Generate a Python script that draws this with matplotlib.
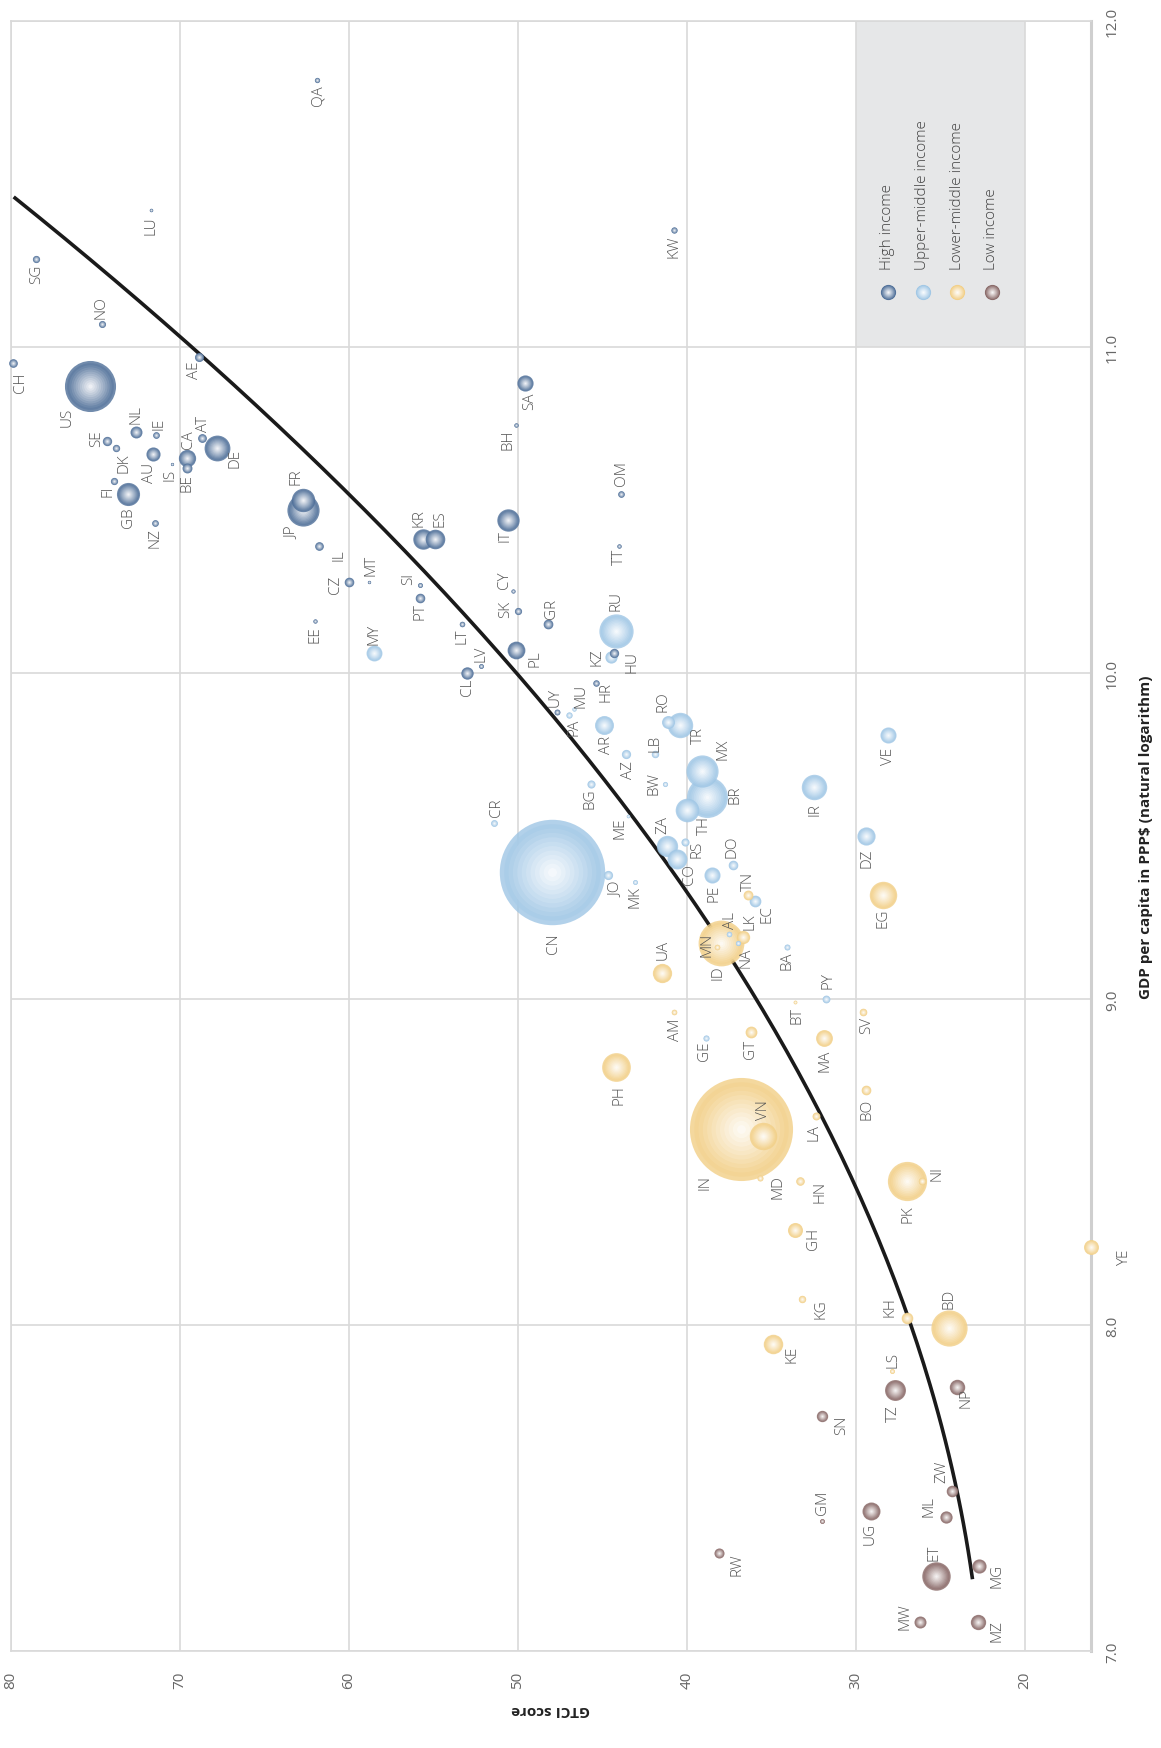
import numpy as np
import matplotlib
matplotlib.use("Agg")
import matplotlib.pyplot as plt
from matplotlib.patches import Rectangle
from matplotlib.colors import to_rgb

# ---- data: country code, GTCI score, ln GDP per capita (PPP$), income group, population (millions)
codes = ["CH", "SG", "NO", "LU", "QA", "KW", "US", "AE", "SA", "BH", "SE", "DK", "NL", "IE", "AU",
         "IS", "CA", "BE", "AT", "DE", "FI", "GB", "NZ", "FR", "JP", "IL", "CZ", "MT", "SI", "KR",
         "ES", "IT", "CY", "OM", "TT", "EE", "LT", "LV", "CL", "PT", "SK", "PL", "GR", "HU", "HR", "UY",
         "MY", "RU", "KZ", "PA", "MU", "AR", "RO", "TR", "AZ", "LB", "BW", "BG", "MX", "BR", "TH",
         "CR", "ME", "ZA", "CO", "RS", "DO", "PE", "CN", "JO", "MK", "EC", "AL", "NA", "BA", "IR",
         "VE", "DZ", "PY", "GE",
         "TN", "LK", "MN", "ID", "UA", "AM", "BT", "PH", "GT", "MA", "SV", "BO", "VN", "IN", "LA",
         "MD", "HN", "PK", "NI", "GH", "YE", "KG", "KH", "BD", "KE", "LS", "EG",
         "TZ", "NP", "SN", "GM", "UG", "ZW", "ML", "RW", "ET", "MG", "MW", "MZ"]

gtci = [79.9, 78.5, 74.6, 71.7, 61.9, 40.8, 75.3, 68.9, 49.6, 50.1, 74.3, 73.8, 72.6, 71.4, 71.6,
        70.5, 69.6, 69.6, 68.7, 67.8, 73.9, 73.1, 71.5, 62.7, 62.7, 61.8, 60.0, 58.8, 55.8, 55.6,
        54.9, 50.6, 50.3, 43.9, 44.0, 62.0, 53.3, 52.2, 53.0, 55.8, 50.0, 50.1, 48.2, 44.3, 45.4, 47.7,
        58.5, 44.2, 44.5, 47.0, 46.7, 44.9, 41.1, 40.4, 43.6, 41.9, 41.3, 45.7, 39.1, 38.8, 40.0,
        51.4, 43.5, 41.2, 40.6, 40.1, 37.3, 38.5, 48.0, 44.7, 43.1, 36.0, 37.5, 37.0, 34.1, 32.5,
        28.1, 29.4, 31.8, 38.9,
        36.4, 36.7, 38.2, 38.0, 41.5, 40.8, 33.6, 44.2, 36.2, 31.9, 29.6, 29.4, 35.5, 36.8, 32.4,
        35.7, 33.3, 27.0, 26.1, 33.6, 16.1, 33.2, 27.0, 24.5, 34.9, 27.9, 28.4,
        27.7, 24.0, 32.0, 32.0, 29.1, 24.3, 24.7, 38.1, 25.3, 22.7, 26.2, 22.8]

gdp = [10.95, 11.27, 11.07, 11.42, 11.82, 11.36, 10.88, 10.97, 10.89, 10.76, 10.71, 10.69, 10.74, 10.73, 10.67,
       10.64, 10.66, 10.63, 10.72, 10.69, 10.59, 10.55, 10.46, 10.53, 10.50, 10.39, 10.28, 10.28, 10.27, 10.41,
       10.41, 10.47, 10.25, 10.55, 10.39, 10.16, 10.15, 10.02, 10.00, 10.23, 10.19, 10.07, 10.15, 10.06, 9.97, 9.88,
       10.06, 10.13, 10.05, 9.87, 9.89, 9.84, 9.85, 9.84, 9.75, 9.75, 9.66, 9.66, 9.70, 9.62, 9.58,
       9.54, 9.56, 9.47, 9.43, 9.48, 9.41, 9.38, 9.39, 9.38, 9.36, 9.30, 9.20, 9.17, 9.16, 9.65,
       9.81, 9.50, 9.00, 8.88,
       9.32, 9.19, 9.16, 9.17, 9.08, 8.96, 8.99, 8.79, 8.90, 8.88, 8.96, 8.72, 8.58, 8.60, 8.64,
       8.45, 8.44, 8.44, 8.44, 8.29, 8.24, 8.08, 8.02, 7.99, 7.94, 7.86, 9.32,
       7.80, 7.81, 7.72, 7.40, 7.43, 7.49, 7.41, 7.30, 7.23, 7.26, 7.09, 7.09]

income = ["H"] * 46 + ["UM"] * 34 + ["LM"] * 27 + ["L"] * 12

population = [8.3, 5.5, 5.2, 0.57, 2.5, 4.0, 321, 9.2, 31.5, 1.4, 9.8, 5.7, 16.9, 4.6, 23.8,
              0.33, 35.9, 11.3, 8.6, 81.4, 5.5, 65.1, 4.6, 66.8, 127, 8.4, 10.5, 0.43, 2.1, 50.6,
              46.4, 60.8, 1.2, 4.5, 1.4, 1.3, 2.9, 2.0, 18.0, 10.4, 5.4, 38.0, 10.8, 9.8, 4.2, 3.4,
              30.3, 144, 17.5, 3.9, 1.3, 43.4, 19.8, 78.7, 9.6, 5.9, 2.3, 7.2, 127, 206, 68,
              4.8, 0.62, 55, 48, 7.1, 10.5, 31, 1371, 9.5, 2.1, 16.1, 2.9, 2.4, 3.5, 79,
              31, 40, 6.6, 3.7,
              11.1, 21, 3.0, 258, 45, 3.0, 0.77, 101, 16.3, 34, 6.3, 10.7, 92, 1311, 6.8,
              3.5, 8.1, 189, 6.1, 27, 26.8, 5.9, 15.6, 161, 46, 2.1, 92,
              53, 28.5, 15, 2.0, 39, 15.6, 17.6, 11.6, 99, 24, 17, 28]

group_names = {"H": "High income", "UM": "Upper-middle income",
               "LM": "Lower-middle income", "L": "Low income"}
group_order = ["H", "UM", "LM", "L"]

# quadratic trend (GTCI = a*g^2 + b*g + c), coefficients
trend_coef = [2.515, -33.6, 134.6]
trend_gdp_range = (7.22, 11.46)

# label placement (pixel offsets from the bubble centre, + = right / down on the page)
label_off = {
    "CH": (8, 19), "SG": (0, 14), "NO": (-1, -17), "LU": (0, 15), "QA": (1, 15), "KW": (0, 16),
    "US": (-23, 30), "AE": (-4, 13), "SA": (5, 18), "BH": (-8, 14), "SE": (-11, -4), "DK": (8, 14),
    "NL": (0, -18), "IE": (3, -12), "AU": (-3, 17), "IS": (-2, 10), "CA": (2, -19), "BE": (0, 15),
    "AT": (1, -15), "DE": (18, 9), "FI": (-6, 10), "GB": (1, 23), "NZ": (0, 14), "FR": (-7, -24),
    "JP": (-11, 22), "IL": (20, 8), "CZ": (-14, 2), "MT": (2, -17), "SI": (-11, -7), "KR": (-4, -22),
    "ES": (5, -22), "IT": (-3, 15), "CY": (-8, -12), "OM": (0, -21), "TT": (0, 10), "EE": (0, 13),
    "LT": (0, 11), "LV": (0, -13), "CL": (0, 13), "PT": (0, 13), "SK": (-12, -3), "PL": (19, 8),
    "GR": (3, -16), "HU": (18, 8), "HR": (10, 8), "UY": (-2, -16),
    "MY": (0, -20), "RU": (0, -31), "KZ": (-14, 0), "PA": (5, 11), "MU": (7, -14), "AR": (2, 19),
    "RO": (-5, -21), "TR": (18, 9), "AZ": (2, 15), "LB": (0, -12), "BW": (-11, -1), "BG": (-1, 14),
    "MX": (21, -22), "BR": (28, -3), "TH": (17, 15), "CR": (2, -16), "ME": (-8, 11), "ZA": (-4, -22),
    "CO": (13, 15), "RS": (12, 6), "DO": (-1, -19), "PE": (2, 17), "CN": (2, 71), "JO": (8, 13),
    "MK": (0, 14), "EC": (12, 12), "AL": (1, -14), "NA": (8, 13), "BA": (0, 13), "IR": (1, 22),
    "VE": (0, 21), "DZ": (1, 21), "PY": (2, -19), "GE": (-1, 12),
    "TN": (1, -14), "LK": (7, -16), "MN": (-10, -3), "ID": (-3, 28), "UA": (1, -24), "AM": (2, 17),
    "BT": (2, 12), "PH": (3, 27), "GT": (-1, 17), "MA": (1, 22), "SV": (4, 13), "BO": (1, 18),
    "VN": (0, -27), "IN": (-36, 52), "LA": (-2, 15), "MD": (18, 8), "HN": (20, 9), "PK": (1, 32),
    "NI": (15, -9), "GH": (18, 8), "YE": (34, 10), "KG": (19, 9), "KH": (-17, -12), "BD": (0, -30),
    "KE": (19, 9), "LS": (1, -12), "EG": (0, 23),
    "TZ": (-2, 23), "NP": (9, 10), "SN": (19, 8), "GM": (0, -19), "UG": (-1, 22), "ZW": (-11, -20),
    "ML": (-17, -12), "RW": (18, 11), "ET": (-2, -24), "MG": (18, 9), "MW": (-15, -6), "MZ": (19, 8),
}

base_color = {"H": "#4d6e98", "UM": "#9fc6e5", "LM": "#f2cf86", "L": "#876765"}

plt.rcParams["font.family"] = ["Open Sans", "DejaVu Sans"]

fig = plt.figure(figsize=(11.61, 17.49), dpi=100)
ax = fig.add_axes([0.0095, 0.0555, 0.9302, 0.9320])

ax.set_xlim(80, 16.1)
ax.set_ylim(7, 12)

# legend background box
ax.add_patch(Rectangle((20, 11), 10, 1, facecolor="#e6e7e8", edgecolor="none", zorder=0.2))

ax.set_xticks([80, 70, 60, 50, 40, 30, 20])
ax.set_yticks([7, 8, 9, 10, 11, 12])
ax.set_yticklabels(["7.0", "8.0", "9.0", "10.0", "11.0", "12.0"])
ax.yaxis.tick_right()
ax.tick_params(axis="both", length=0, labelsize=11, labelcolor="#666666")
ax.tick_params(axis="x", pad=14, labelrotation=90)
ax.tick_params(axis="y", pad=10, labelrotation=90)
for lab in ax.get_yticklabels():
    lab.set_verticalalignment("center")
ax.grid(True, color="#d9d9d9", linewidth=1.2)
ax.set_axisbelow(True)
for side in ["left", "top", "bottom"]:
    ax.spines[side].set_color("#d9d9d9")
    ax.spines[side].set_linewidth(1.2)
ax.spines["right"].set_color("#cfcfcf")
ax.spines["right"].set_linewidth(2.2)

ax.set_xlabel("GTCI score", fontsize=11, fontweight="bold", color="#222222",
              rotation=180, labelpad=10)
ax.yaxis.set_label_position("right")
ax.set_ylabel("GDP per capita in PPP$ (natural logarithm)", fontsize=11, fontweight="bold",
              color="#222222", rotation=90, labelpad=14)

# trend line
g_line = np.linspace(trend_gdp_range[0], trend_gdp_range[1], 200)
ax.plot(np.polyval(trend_coef, g_line), g_line, color="#1a1a1a", linewidth=2.6, zorder=2,
        solid_capstyle="butt")


def shaded_bubble(x, y, s, color, z):
    c0 = np.array(to_rgb(color))
    n = 12
    for k in range(n):
        f = 1 - k / n
        t = (k / (n - 1)) ** 0.9
        col = c0 * (1 - 0.92 * t) + np.ones(3) * 0.92 * t
        ax.scatter([x], [y], s=s * f * f, color=col, linewidths=0, alpha=0.8,
                   zorder=z + k * 1e-4, clip_on=False)


sizes = 4.2 * np.array(population) + 4
order = np.argsort(-sizes)
for rank, i in enumerate(order):
    shaded_bubble(gtci[i], gdp[i], sizes[i], base_color[income[i]], 3 + rank * 0.01)

for i, c in enumerate(codes):
    dx, dy = label_off[c]
    ax.annotate(c, (gtci[i], gdp[i]), xytext=(dx, -dy), textcoords="offset pixels",
                rotation=90, ha="center", va="center", fontsize=11, color="#555555",
                fontweight="light", zorder=10, annotation_clip=False)

# legend inside the grey box
leg_x = [0.812, 0.844, 0.876, 0.908]
for gx, g in zip(leg_x, group_order):
    c0 = np.array(to_rgb(base_color[g]))
    for k in range(10):
        f = 1 - k / 10
        t = (k / 9) ** 0.9
        col = c0 * (1 - 0.92 * t) + np.ones(3) * 0.92 * t
        ax.scatter([gx], [0.8337], s=120 * f * f, color=col, linewidths=0,
                   transform=ax.transAxes, zorder=5 + k * 1e-3)
    ax.text(gx, 0.8475, group_names[g], transform=ax.transAxes, rotation=90,
            ha="center", va="bottom", fontsize=11, color="#444444", fontweight="light")

fig.savefig("out.png", dpi=100)
